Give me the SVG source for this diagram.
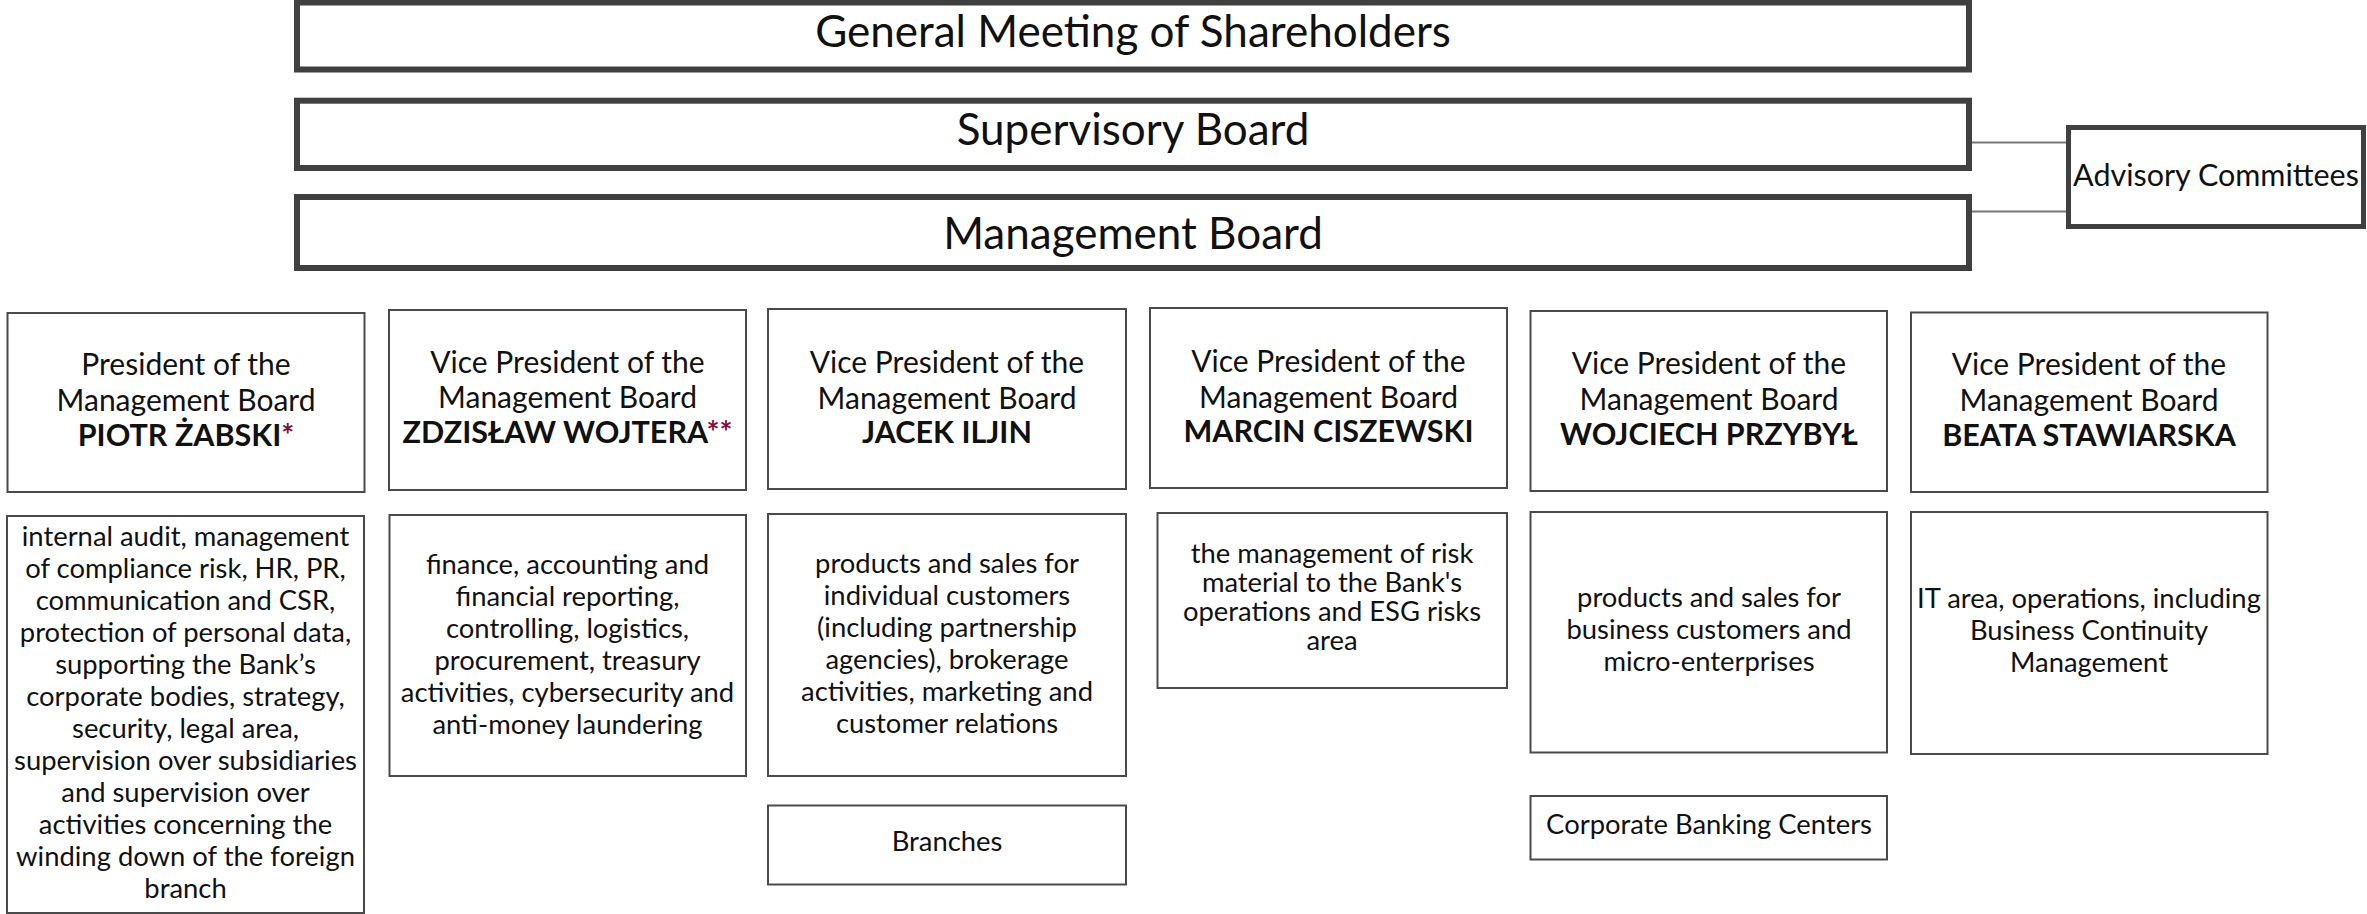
<svg xmlns="http://www.w3.org/2000/svg" width="2367" height="914" viewBox="0 0 2367 914">
<style>
.big{fill:#fff;stroke:#404040;stroke-width:6}
.adv{fill:#fff;stroke:#404040;stroke-width:5}
.box{fill:#fff;stroke:#4a4a4a;stroke-width:2}
.conn{stroke:#777;stroke-width:2;fill:none}
text{font-family:Lato,"Liberation Sans",sans-serif;fill:#111;text-anchor:middle}
.t1{font-size:44px}
.t2{font-size:30.5px}
.h{font-size:30px}
.hb{font-size:30.5px;font-weight:bold}
.d{font-size:27.4px}
.star{fill:#800c3e}
</style>
<rect width="2367" height="914" fill="#fff"/>
<g id="connectors">
<line class="conn" x1="1972" y1="142.5" x2="2067" y2="142.5"/>
<line class="conn" x1="1972" y1="211.5" x2="2067" y2="211.5"/>
</g>
<g id="gm"><rect class="big" x="297" y="2.5" width="1672" height="67"/><text class="t1" x="1133" y="47">General Meeting of Shareholders</text></g>
<g id="sb"><rect class="big" x="297" y="100.7" width="1672" height="67.3"/><text class="t1" x="1133" y="145">Supervisory Board</text></g>
<g id="mb"><rect class="big" x="297" y="197" width="1672" height="71"/><text class="t1" x="1133" y="249">Management Board</text></g>
<g id="advisory"><rect class="adv" x="2068.5" y="127.5" width="295" height="99"/><text class="t2" x="2216" y="186">Advisory Committees</text></g>

<g id="p1"><rect class="box" x="7.5" y="313" width="357" height="179"/>
<text class="h" x="186" y="375">President of the</text>
<text class="h" x="186" y="411">Management Board</text>
<text class="hb" x="186" y="446">PIOTR ŻABSKI<tspan class="star">*</tspan></text></g>
<g id="p2"><rect class="box" x="389" y="310" width="357" height="180"/>
<text class="h" x="567.5" y="373">Vice President of the</text>
<text class="h" x="567.5" y="408">Management Board</text>
<text class="hb" x="567.5" y="443">ZDZISŁAW WOJTERA<tspan class="star">**</tspan></text></g>
<g id="p3"><rect class="box" x="768" y="309" width="358" height="180"/>
<text class="h" x="947" y="373">Vice President of the</text>
<text class="h" x="947" y="409">Management Board</text>
<text class="hb" x="947" y="443">JACEK ILJIN</text></g>
<g id="p4"><rect class="box" x="1150" y="308" width="357" height="180"/>
<text class="h" x="1328.5" y="372">Vice President of the</text>
<text class="h" x="1328.5" y="408">Management Board</text>
<text class="hb" x="1328.5" y="442">MARCIN CISZEWSKI</text></g>
<g id="p5"><rect class="box" x="1530.5" y="311" width="356.5" height="180"/>
<text class="h" x="1709" y="374">Vice President of the</text>
<text class="h" x="1709" y="410">Management Board</text>
<text class="hb" x="1709" y="445">WOJCIECH PRZYBYŁ</text></g>
<g id="p6"><rect class="box" x="1911" y="312.5" width="356.5" height="179.5"/>
<text class="h" x="2089" y="375">Vice President of the</text>
<text class="h" x="2089" y="411">Management Board</text>
<text class="hb" x="2089" y="446">BEATA STAWIARSKA</text></g>

<g id="d1"><rect class="box" x="7" y="516" width="357" height="397"/>
<text class="d" x="185.5" y="546">internal audit, management</text>
<text class="d" x="185.5" y="578">of compliance risk, HR, PR,</text>
<text class="d" x="185.5" y="610">communication and CSR,</text>
<text class="d" x="185.5" y="642">protection of personal data,</text>
<text class="d" x="185.5" y="674">supporting the Bank’s</text>
<text class="d" x="185.5" y="706">corporate bodies, strategy,</text>
<text class="d" x="185.5" y="738">security, legal area,</text>
<text class="d" x="185.5" y="770">supervision over subsidiaries</text>
<text class="d" x="185.5" y="802">and supervision over</text>
<text class="d" x="185.5" y="834">activities concerning the</text>
<text class="d" x="185.5" y="866">winding down of the foreign</text>
<text class="d" x="185.5" y="898">branch</text></g>
<g id="d2"><rect class="box" x="389.5" y="515" width="356.5" height="261"/>
<text class="d" x="567.5" y="574">finance, accounting and</text>
<text class="d" x="567.5" y="606">financial reporting,</text>
<text class="d" x="567.5" y="638">controlling, logistics,</text>
<text class="d" x="567.5" y="670">procurement, treasury</text>
<text class="d" x="567.5" y="702">activities, cybersecurity and</text>
<text class="d" x="567.5" y="734">anti-money laundering</text></g>
<g id="d3"><rect class="box" x="768" y="514" width="358" height="262"/>
<text class="d" x="947" y="573">products and sales for</text>
<text class="d" x="947" y="605">individual customers</text>
<text class="d" x="947" y="637">(including partnership</text>
<text class="d" x="947" y="669">agencies), brokerage</text>
<text class="d" x="947" y="701">activities, marketing and</text>
<text class="d" x="947" y="733">customer relations</text></g>
<g id="d4"><rect class="box" x="1157.5" y="513" width="349.5" height="175"/>
<text class="d" x="1332" y="563">the management of risk</text>
<text class="d" x="1332" y="592">material to the Bank's</text>
<text class="d" x="1332" y="621">operations and ESG risks</text>
<text class="d" x="1332" y="650">area</text></g>
<g id="d5"><rect class="box" x="1530.5" y="512" width="356.5" height="240.5"/>
<text class="d" x="1709" y="607">products and sales for</text>
<text class="d" x="1709" y="639">business customers and</text>
<text class="d" x="1709" y="671">micro-enterprises</text></g>
<g id="d6"><rect class="box" x="1911" y="512" width="356.5" height="242"/>
<text class="d" x="2089" y="608">IT area, operations, including</text>
<text class="d" x="2089" y="640">Business Continuity</text>
<text class="d" x="2089" y="672">Management</text></g>
<g id="branches"><rect class="box" x="768" y="805.5" width="358" height="79"/>
<text class="d" x="947" y="851">Branches</text></g>
<g id="cbc"><rect class="box" x="1530.5" y="796" width="356.5" height="63.5"/>
<text class="d" x="1709" y="834">Corporate Banking Centers</text></g>
</svg>
